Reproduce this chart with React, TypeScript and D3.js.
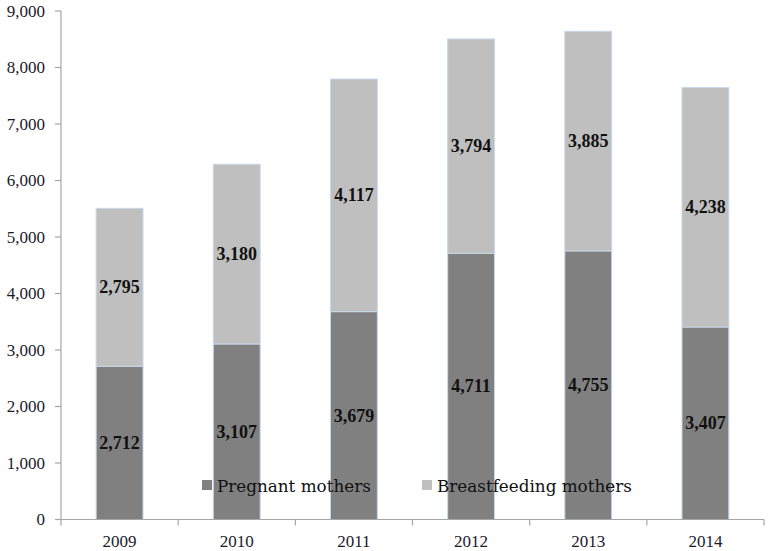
import React from "react";
import * as d3 from "d3";

const years = ["2009", "2010", "2011", "2012", "2013", "2014"];
const pregnant = [2712, 3107, 3679, 4711, 4755, 3407];
const breastfeeding = [2795, 3180, 4117, 3794, 3885, 4238];
const seriesNames = ["Pregnant mothers", "Breastfeeding mothers"];
const seriesColors = ["#808080", "#bfbfbf"];
const yTicks = [0, 1000, 2000, 3000, 4000, 5000, 6000, 7000, 8000, 9000];

const W = 768;
const H = 551;
const left = 61;
const right = 764;
const top = 11;
const bottom = 519.5;
const NUMFONT = "'Liberation Serif', serif";
const FONT = "'DejaVu Serif', serif";

export default function App() {
  const x = d3.scaleBand<string>().domain(years).range([left, right]).paddingInner(0.6).paddingOuter(0.3);
  const band = d3.scaleBand<string>().domain(years).range([left, right]);
  const y = d3.scaleLinear().domain([0, 9000]).range([bottom, top]);
  const fmt = d3.format(",");

  const rows = years.map((yr, i) => ({ year: yr, p: pregnant[i], b: breastfeeding[i] }));
  const stack = d3.stack<any>().keys(["p", "b"])(rows);

  return (
    <svg width={W} height={H} style={{ position: "absolute", left: 0, top: 0, background: "#fff" }}>
      {stack.map((s, si) =>
        s.map((d, i) => (
          <rect
            key={`${si}-${i}`}
            x={x(years[i])!}
            y={y(d[1])}
            width={x.bandwidth()}
            height={y(d[0]) - y(d[1])}
            fill={seriesColors[si]}
            stroke="#c9d7ea"
            strokeWidth={1}
          />
        ))
      )}
      {stack.map((s, si) =>
        s.map((d, i) => (
          <text
            key={`l-${si}-${i}`}
            x={x(years[i])! + x.bandwidth() / 2}
            y={(y(d[0]) + y(d[1])) / 2}
            dy="0.33em"
            textAnchor="middle"
            fontFamily={NUMFONT}
            fontWeight="bold"
            fontSize={18}
            fill="#111"
          >
            {fmt(d[1] - d[0])}
          </text>
        ))
      )}
      {/* y axis */}
      <line x1={left} x2={left} y1={top} y2={bottom} stroke="#a6a6a6" strokeWidth={1.2} />
      {yTicks.map((t) => (
        <g key={t}>
          <line x1={left - 6} x2={left} y1={y(t)} y2={y(t)} stroke="#a6a6a6" strokeWidth={1.2} />
          <text x={45} y={y(t)} dy="0.33em" textAnchor="end" fontFamily={NUMFONT} fontSize={17} fill="#1a1a2a">
            {fmt(t)}
          </text>
        </g>
      ))}
      {/* x axis */}
      <line x1={left} x2={right} y1={bottom} y2={bottom} stroke="#a6a6a6" strokeWidth={1.2} />
      {years.map((yr) => (
        <line
          key={`xt-${yr}`}
          x1={band(yr)! + band.bandwidth()}
          x2={band(yr)! + band.bandwidth()}
          y1={bottom}
          y2={bottom + 6}
          stroke="#a6a6a6"
          strokeWidth={1.2}
        />
      ))}
      <line x1={left} x2={left} y1={bottom} y2={bottom + 6} stroke="#a6a6a6" strokeWidth={1.2} />
      {years.map((yr) => (
        <text
          key={`xl-${yr}`}
          x={band(yr)! + band.bandwidth() / 2}
          y={547}
          textAnchor="middle"
          fontFamily={NUMFONT}
          fontSize={17}
          fill="#1a1a2a"
        >
          {yr}
        </text>
      ))}
      {/* legend */}
      {seriesNames.map((n, i) => (
        <g key={n} transform={`translate(${[202, 422][i]},480)`}>
          <rect x={0} y={0} width={10} height={10} fill={seriesColors[i]} />
          <text x={15} y={12} fontFamily={FONT} fontSize={16.8} fill="#111">
            {n}
          </text>
        </g>
      ))}
    </svg>
  );
}
